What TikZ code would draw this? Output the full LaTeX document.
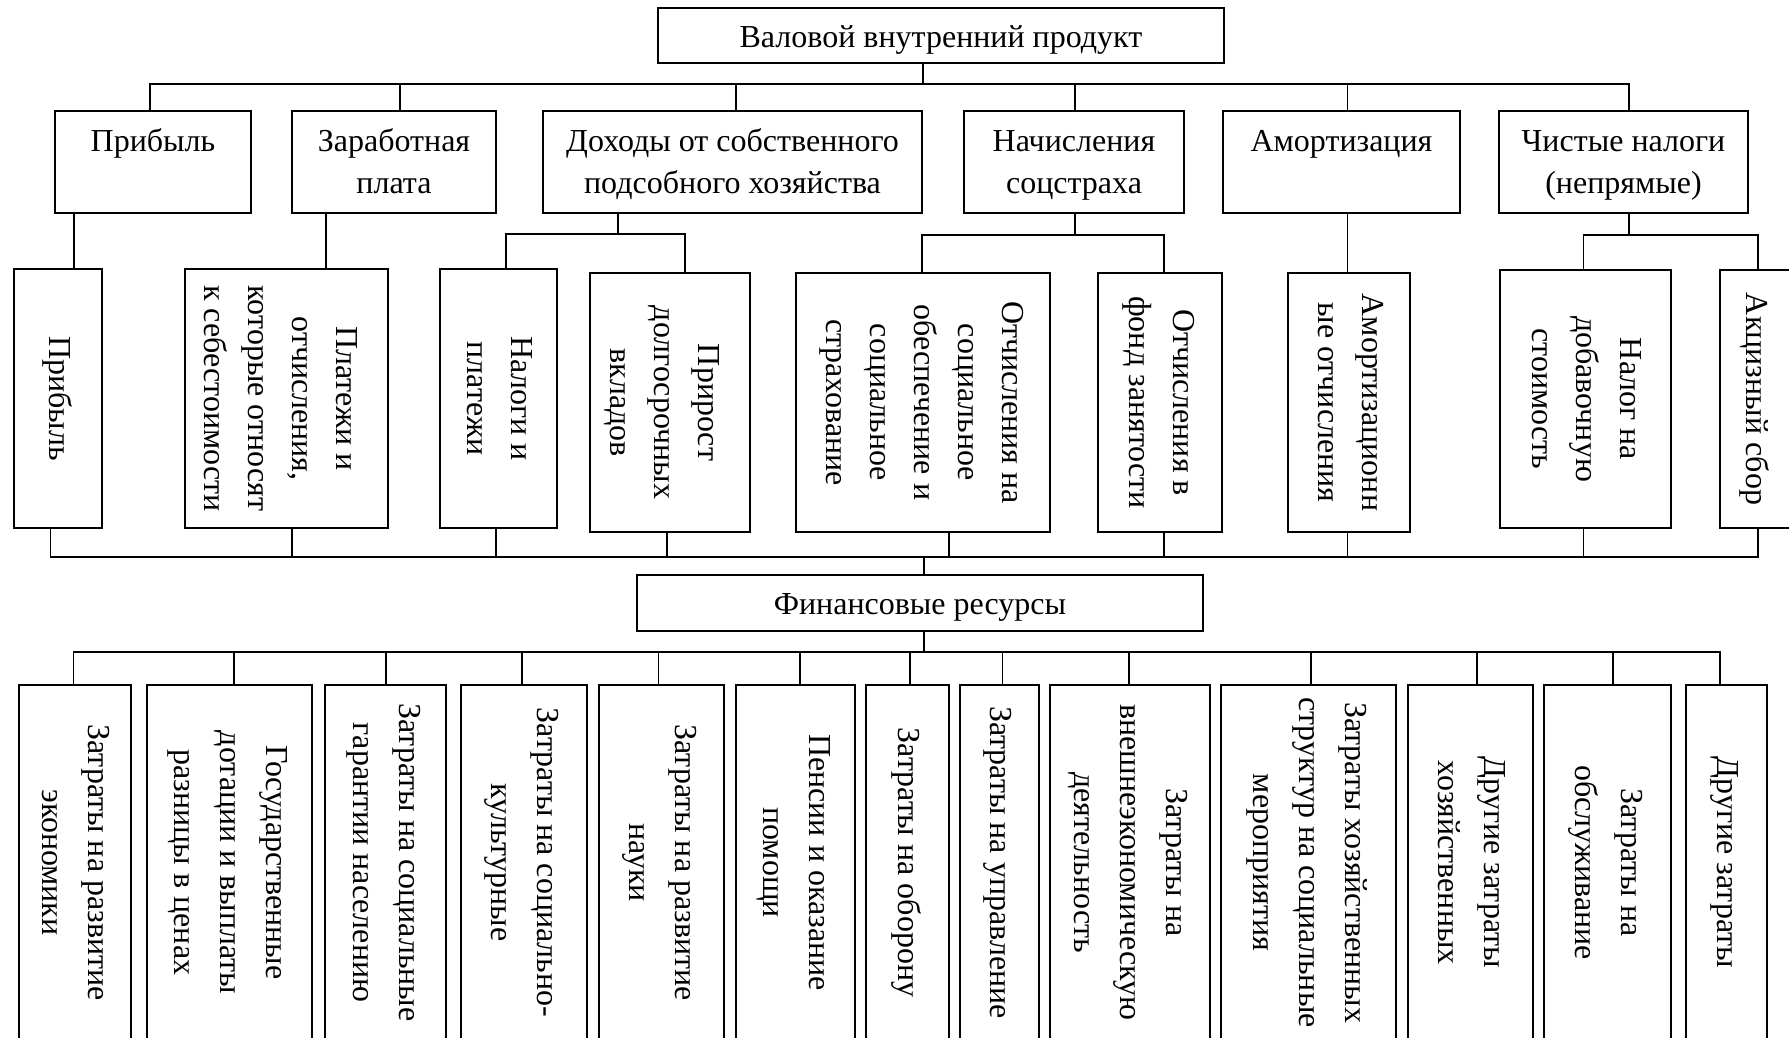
\documentclass[tikz,border=0pt]{standalone}
\usepackage{fontspec}
\usepackage{graphicx}
\setmainfont{Liberation Serif}
\newcommand\vt[1]{\rotatebox{-90}{\begin{tabular}{@{}c@{}}#1\end{tabular}}}
\newcommand\bx[7][]{\node[box,#1,minimum width={#5-#3},minimum height={#6-#4}] (#2) at ({(#3+#5)/2},{(#4+#6)/2}) {#7};}
\newcommand\dn[4]{\coordinate (#1) at (#2,#3); \draw[ln] (#1) -- (#1 |- #4);}
\begin{document}
\begin{tikzpicture}[x=1pt,y=-1pt,
  box/.style={draw,line width=1.8pt,inner sep=0pt,rectangle,font=\fontsize{32}{44}\selectfont},
  cbox/.style={font=\fontsize{32}{46}\selectfont},
  hb/.style={text height=23pt,text depth=0pt},
  ln/.style={line width=1.8pt,line cap=rect},
  txt/.style={inner sep=0pt,align=center,font=\fontsize{32}{42}\selectfont}]
\useasboundingbox (0,0) rectangle (1789,1037);
\clip (0,0) rectangle (1789,1037);
% top
\bx[hb]{T}{658}{8}{1224}{63}{Валовой внутренний продукт}
% level 2
\bx{A1}{55}{111}{251}{213}{}
\bx{A2}{292}{111}{496}{213}{}
\bx{A3}{543}{111}{922}{213}{}
\bx{A4}{964}{111}{1184}{213}{}
\bx{A5}{1223}{111}{1460}{213}{}
\bx{A6}{1499}{111}{1748}{213}{}
\node[txt,anchor=north] (A1t) at ([yshift=-12pt]A1.north) {\strut Прибыль};
\node[txt,anchor=north] (A2t) at ([yshift=-12pt]A2.north) {\strut Заработная\\\strut плата};
\node[txt,anchor=north] (A3t) at ([yshift=-12pt]A3.north) {\strut Доходы от собственного\\\strut подсобного хозяйства};
\node[txt,anchor=north] (A4t) at ([yshift=-12pt]A4.north) {\strut Начисления\\\strut соцстраха};
\node[txt,anchor=north] (A5t) at ([yshift=-12pt]A5.north) {\strut Амортизация};
\node[txt,anchor=north] (A6t) at ([yshift=-12pt]A6.north) {\strut Чистые налоги\\\strut (непрямые)};
% level 3
\bx{B1}{14}{269}{102}{528}{\vt{Прибыль}}
\bx{B2}{185}{269}{388}{528}{\hspace*{-14pt}\vt{Платежи и\\отчисления,\\которые относят\\к себестоимости}}
\bx{B3}{440}{269}{557}{528}{\vt{Налоги и\\платежи}}
\bx{B4}{590}{273}{750}{532}{\hspace*{-14pt}\vt{Прирост\\долгосрочных\\вкладов}}
\bx{B5}{796}{273}{1050}{532}{\vt{Отчисления на\\социальное\\обеспечение и\\социальное\\страхование}}
\bx{B6}{1098}{273}{1222}{532}{\vt{Отчисления в\\фонд занятости}}
\bx{B7}{1288}{273}{1410}{532}{\vt{Амортизационн\\ые отчисления}}
\bx{B8}{1500}{270}{1671}{528}{\vt{Налог на\\добавочную\\стоимость}}
\bx{B9}{1720}{270}{1800}{528}{}
\node[inner sep=0pt,font=\fontsize{32}{44}\selectfont] (B9t) at (1755,399) {\vt{Акцизный сбор}};
% finance
\bx[hb]{F}{637}{575}{1203}{631}{Финансовые ресурсы}
% bottom
\bx[cbox]{C1}{19}{685}{131}{1040}{\vt{Затраты на развитие\\экономики}}
\bx[cbox]{C2}{147}{685}{312}{1040}{\vt{Государственные\\дотации и выплаты\\разницы в ценах}}
\bx[cbox]{C3}{325}{685}{446}{1040}{\vt{Затраты на социальные\\гарантии населению}}
\bx[cbox]{C4}{461}{685}{587}{1040}{\vt{Затраты на социально-\\культурные}}
\bx[cbox]{C5}{599}{685}{724}{1040}{\vt{Затраты на развитие\\науки}}
\bx[cbox]{C6}{736}{685}{855}{1040}{\vt{Пенсии и оказание\\помощи}}
\bx[cbox]{C7}{866}{685}{949}{1040}{\vt{Затраты на оборону}}
\bx[cbox]{C8}{960}{685}{1039}{1040}{\vt{Затраты на управление}}
\bx[cbox]{C9}{1050}{685}{1210}{1040}{\vt{Затраты на\\внешнеэкономическую\\деятельность}}
\bx[cbox]{C10}{1221}{685}{1396}{1040}{\vt{Затраты хозяйственных\\структур на социальные\\мероприятия}}
\bx[cbox]{C11}{1408}{685}{1533}{1040}{\vt{Другие затраты\\хозяйственных}}
\bx[cbox]{C12}{1544}{685}{1671}{1040}{\vt{Затраты на\\обслуживание}}
\bx[cbox]{C13}{1686}{685}{1767}{1040}{\vt{Другие затраты}}
% connectors top -> level 2
\coordinate (t0) at (923,84);
\draw[ln] (t0 |- T.south) -- (t0);
\dn{a1}{150}{84}{A1.north}
\dn{a2}{400}{84}{A2.north}
\dn{a3}{736}{84}{A3.north}
\dn{a4}{1075}{84}{A4.north}
\dn{a5}{1347.5}{84}{A5.north}
\dn{a6}{1629}{84}{A6.north}
\draw[ln] (a1) -- (a6);
% level 2 -> level 3
\coordinate (p1) at (74,240);
\draw[ln] (p1 |- A1.south) -- (p1 |- B1.north);
\coordinate (p2) at (326,240);
\draw[ln] (p2 |- A2.south) -- (p2 |- B2.north);
\coordinate (q0) at (618,234);
\draw[ln] (q0 |- A3.south) -- (q0);
\dn{q1}{506}{234}{B3.north}
\dn{q2}{685}{234}{B4.north}
\draw[ln] (q1) -- (q2);
\coordinate (r0) at (1075,235);
\draw[ln] (r0 |- A4.south) -- (r0);
\dn{r1}{921.6}{235}{B5.north}
\dn{r2}{1164}{235}{B6.north}
\draw[ln] (r1) -- (r2);
\coordinate (p5) at (1347.5,240);
\draw[ln] (p5 |- A5.south) -- (p5 |- B7.north);
\coordinate (s0) at (1629,235);
\draw[ln] (s0 |- A6.south) -- (s0);
\dn{s1}{1583.5}{235}{B8.north}
\dn{s2}{1758}{235}{B9.north}
\draw[ln] (s1) -- (s2);
% level 3 -> finance
\dn{e1}{50.5}{557}{B1.south}
\dn{e2}{292}{557}{B2.south}
\dn{e3}{496}{557}{B3.south}
\dn{e4}{667}{557}{B4.south}
\dn{e5}{949}{557}{B5.south}
\dn{e6}{1164}{557}{B6.south}
\dn{e7}{1347.5}{557}{B7.south}
\dn{e8}{1583.5}{557}{B8.south}
\dn{e9}{1758}{557}{B9.south}
\draw[ln] (e1) -- (e9);
\dn{f0}{923.7}{557}{F.north}
\coordinate (g0) at (923.7,652);
\draw[ln] (g0 |- F.south) -- (g0);
% finance -> bottom
\dn{g1}{73.5}{652}{C1.north}
\dn{g2}{234}{652}{C2.north}
\dn{g3}{386}{652}{C3.north}
\dn{g4}{522}{652}{C4.north}
\dn{g5}{658.5}{652}{C5.north}
\dn{g6}{800}{652}{C6.north}
\dn{g7}{910}{652}{C7.north}
\dn{g8}{1002.5}{652}{C8.north}
\dn{g9}{1129}{652}{C9.north}
\dn{g10}{1311}{652}{C10.north}
\dn{g11}{1477}{652}{C11.north}
\dn{g12}{1613}{652}{C12.north}
\dn{g13}{1720}{652}{C13.north}
\draw[ln] (g1) -- (g13);
\end{tikzpicture}
\end{document}
